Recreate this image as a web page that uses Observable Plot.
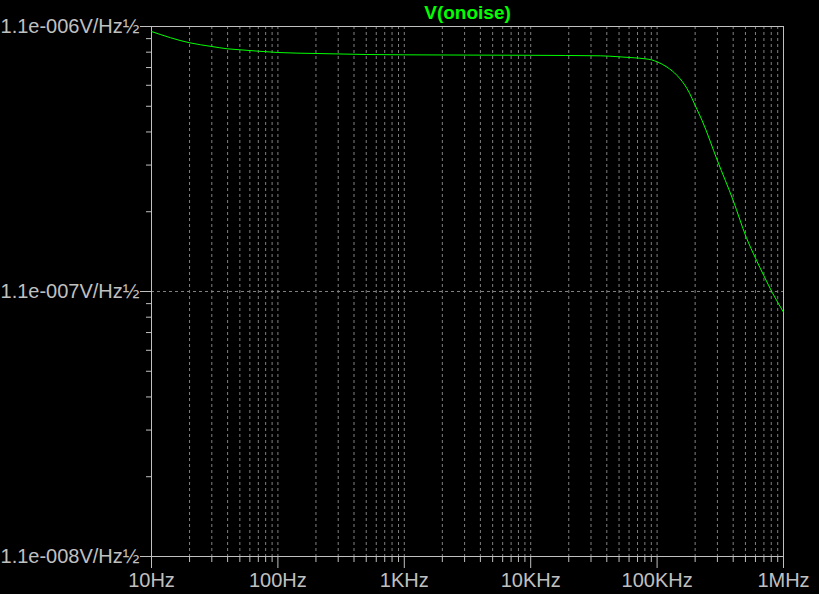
<!DOCTYPE html>
<html>
<head>
<meta charset="utf-8">
<script src="https://cdn.jsdelivr.net/npm/d3@7"></script>
<script src="https://cdn.jsdelivr.net/npm/@observablehq/plot@0.6"></script>
<style>
  html, body { margin: 0; padding: 0; background: #000; }
  #chart { width: 819px; height: 594px; }
</style>
</head>
<body>
<div id="chart"></div>
<script>
// ---- data ----
const title = "V(onoise)";
const freq = [10, 20, 30, 40, 50, 70, 100, 200, 500, 1000, 10000, 35600, 50000, 66000, 80000, 90000, 100000, 120000, 144000, 173000, 207000, 227000, 300000, 400000, 507000, 604000, 698000, 813000, 1000000];
const noise = [1.053e-6, 0.955e-6, 0.9245e-6, 0.906e-6, 0.8985e-6, 0.8876e-6, 0.8776e-6, 0.870e-6, 0.8624e-6, 0.860e-6, 0.8565e-6, 0.8527e-6, 0.8454e-6, 0.838e-6, 0.831e-6, 0.8237e-6, 0.8095e-6, 0.7726e-6, 0.7186e-6, 0.640e-6, 0.535e-6, 0.486e-6, 0.343e-6, 0.2425e-6, 0.1763e-6, 0.1461e-6, 0.1264e-6, 0.1093e-6, 0.0919e-6];

const xTickValues = [10, 100, 1000, 10000, 100000, 1000000];
const xTickLabels = ["10Hz", "100Hz", "1KHz", "10KHz", "100KHz", "1MHz"];
const yTickValues = [1.1e-8, 1.1e-7, 1.1e-6];
const yTickLabels = ["1.1e-008V/Hz\u00BD", "1.1e-007V/Hz\u00BD", "1.1e-006V/Hz\u00BD"];
const yGridValues = [1.1e-7];

// ---- build tables ----
const data = freq.map((f, i) => ({f, v: noise[i]}));
const minor = (majors) => {
  const out = [];
  for (let i = 0; i < majors.length - 1; i++)
    for (let k = 2; k <= 9; k++) out.push(majors[i] * k);
  return out;
};
const xMinor = minor(xTickValues);
const yMinor = minor(yTickValues);
const xGrid = xMinor.concat(xTickValues.slice(1, -1));
const xLabel = (d) => xTickLabels[xTickValues.indexOf(d)];
const yLabel = (d) => yTickLabels[yTickValues.indexOf(d)];

const axisColor = "#c0c0c0";
const gridColor = "#808080";
const font = "'Liberation Sans', Arial, sans-serif";

const chart = Plot.plot({
  width: 819,
  height: 594,
  marginLeft: 151,
  marginRight: 36,
  marginTop: 26,
  marginBottom: 38,
  style: {background: "#000", fontFamily: font, fontSize: "20px", color: axisColor},
  x: {type: "log", domain: [10, 1e6], label: null},
  y: {type: "log", domain: [1.1e-8, 1.1e-6], label: null},
  marks: [
    Plot.gridX(xGrid, {stroke: gridColor, strokeOpacity: 1, strokeDasharray: "3,3"}),
    Plot.gridY(yGridValues, {stroke: gridColor, strokeOpacity: 1, strokeDasharray: "3,3"}),
    Plot.axisX(xMinor, {tickSize: 6, tickFormat: () => "", color: axisColor}),
    Plot.axisX(xTickValues, {tickSize: 12, tickFormat: () => "", color: axisColor}),
    Plot.axisX(xTickValues, {tickSize: 0, tickPadding: 16, tickFormat: xLabel, color: axisColor, fontSize: 20}),
    Plot.axisY(yMinor, {tickSize: 5, tickFormat: () => "", color: axisColor}),
    Plot.axisY(yTickValues, {tickSize: 11, tickFormat: () => "", color: axisColor}),
    Plot.axisY(yTickValues, {tickSize: 0, tickPadding: 12, tickFormat: yLabel, color: axisColor, fontSize: 20}),
    Plot.frame({stroke: axisColor}),
    Plot.line(data, {x: "f", y: "v", stroke: "#00ff00", strokeWidth: 1, curve: "monotone-x"}),
    Plot.text([title], {frameAnchor: "top", dy: -21, fill: "#00ff00", fontWeight: "bold", fontSize: 19})
  ]
});
document.getElementById("chart").appendChild(chart);
</script>
</body>
</html>
